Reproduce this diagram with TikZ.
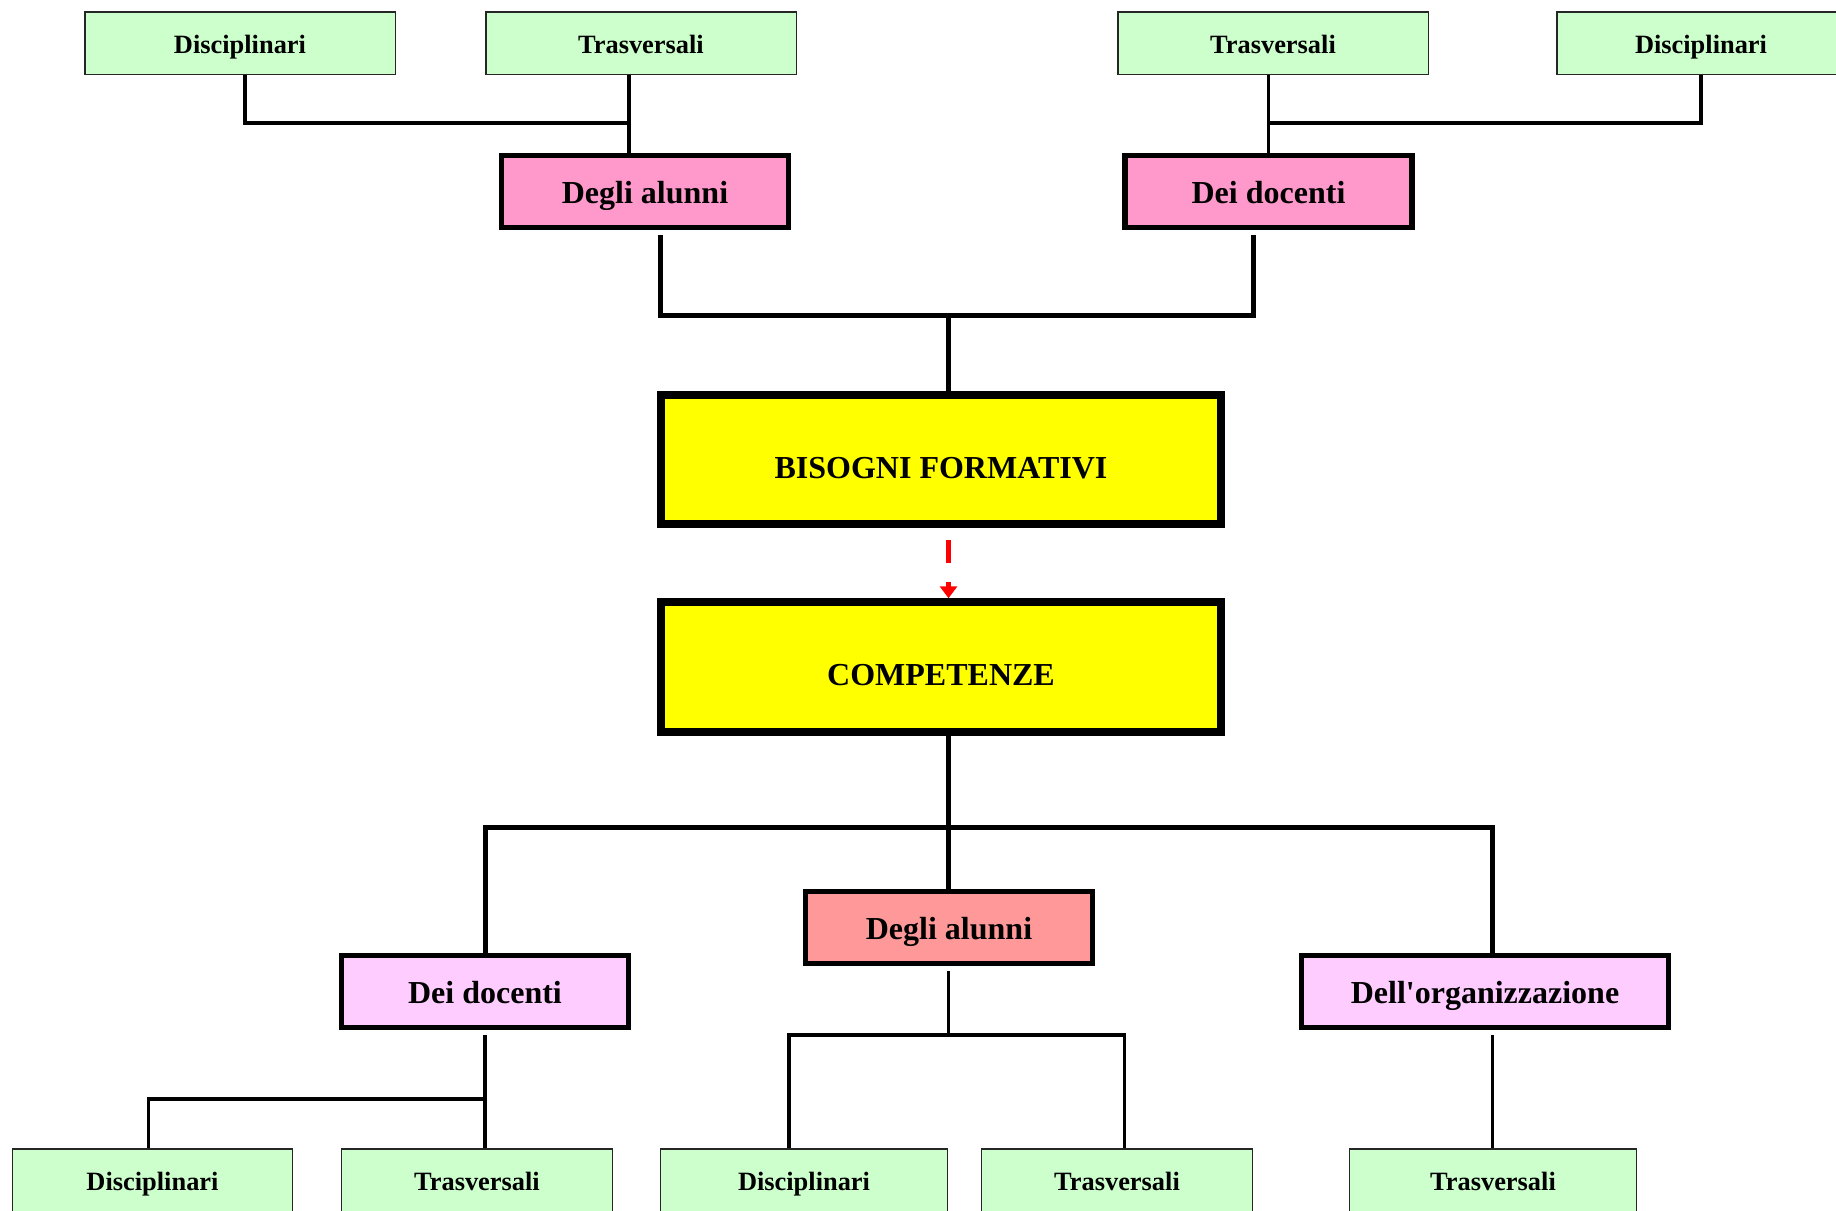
\documentclass[tikz,border=0pt]{standalone}
\usepackage{fontspec}
\setmainfont{Liberation Serif}
\usetikzlibrary{arrows.meta}

\definecolor{verde}{HTML}{CCFFCC}
\definecolor{rosa}{HTML}{FF99CC}
\definecolor{giallo}{HTML}{FFFF00}
\definecolor{salmone}{HTML}{FF9999}
\definecolor{lilla}{HTML}{FFCCFF}

\begin{document}
\begin{tikzpicture}[x=0.5pt,y=-0.5pt,
  leafbox/.style={draw=black!85,line width=0.75pt,fill=verde,minimum width=155.25pt,minimum height=31.25pt,inner sep=0pt,text height=10.3pt,text depth=0pt,font=\fontsize{13.2}{15}\selectfont\bfseries},
  midbox/.style={draw=black,line width=2.75pt,minimum width=143.5pt,minimum height=36pt,inner sep=0pt,text height=11.8pt,text depth=0pt,font=\fontsize{16}{19}\selectfont\bfseries},
  mainbox/.style={draw=black,line width=4pt,fill=giallo,minimum width=280pt,minimum height=64.75pt,inner sep=0pt,text height=18.8pt,text depth=0pt,font=\fontsize{16}{19}\selectfont\bfseries},
  thinlink/.style={line width=1.75pt},
  thicklink/.style={line width=2.5pt},
  dashlink/.style={red,line width=2.5pt,dash pattern=on 11.35pt off 9.5pt,-{Triangle[length=6pt,width=8.5pt]}}]
\useasboundingbox (0,0) rectangle (1836,1210);
\clip (0,0) rectangle (1836,1210);

\node [leafbox] (d1) at (240,43) {Disciplinari};
\node [leafbox] (t1) at (641,43) {Trasversali};
\node [leafbox] (t2) at (1273,43) {Trasversali};
\node [leafbox,minimum width=144pt] (d2) at (1701,43) {Disciplinari};
\node [midbox,fill=rosa] (a1) at (645,191.5) {Degli alunni};
\node [midbox,fill=rosa] (b1) at (1268.5,191.5) {Dei docenti};
\node [mainbox] (bis) at (941,459.5) {BISOGNI FORMATIVI};
\node [mainbox] (comp) at (941,667) {COMPETENZE};
\node [midbox,fill=salmone] (a2) at (949,927.5) {Degli alunni};
\node [midbox,fill=lilla] (b2) at (485,991.5) {Dei docenti};
\node [midbox,fill=lilla,minimum width=183.5pt] (c2) at (1485,991.5) {Dell\textquotesingle organizzazione};
\node [leafbox,minimum width=140pt] (d3) at (152.5,1180) {Disciplinari};
\node [leafbox,minimum width=135.5pt] (t3) at (477,1180) {Trasversali};
\node [leafbox,minimum width=143.5pt] (d4) at (804,1180) {Disciplinari};
\node [leafbox,minimum width=135.5pt] (t4) at (1117,1180) {Trasversali};
\node [leafbox,minimum width=143.5pt] (t5) at (1493,1180) {Trasversali};

\coordinate (ja) at (629,123);
\coordinate (jb) at (1268.7,123);
\coordinate (jc) at (948.5,315);
\coordinate (la) at (660.4,0);
\coordinate (lb) at (1253,0);
\coordinate (jd) at (948.5,827);
\coordinate (lc) at (1492.5,0);
\coordinate (je) at (484.8,1099);
\coordinate (jf) at (948.5,1035);
\coordinate (lf) at (789.2,0);
\coordinate (lg) at (1124.7,0);

\draw [thinlink] ([xshift=2.5pt]d1.south) |- (ja);
\draw [thinlink] (t1.south -| ja) -- (a1.north -| ja);
\draw [thinlink] (d2.south) |- (jb);
\draw [thinlink] (t2.south -| jb) -- (b1.north -| jb);
\draw [thicklink,shorten <=2.5pt] (a1.south -| la) |- (jc);
\draw [thicklink,shorten <=2.5pt] (b1.south -| lb) |- (jc);
\draw [thicklink] (jc) -- (bis.north -| jc);
\draw [dashlink,shorten <=6pt] (bis.south -| jc) -- (comp.north -| jc);
\draw [thicklink] (comp.south -| jc) -- (a2.north -| jc);
\draw [thicklink] (b2.north) |- (lc |- jd) -- (lc |- c2.north);
\draw [thinlink,shorten <=2.5pt] (b2.south -| je) -- (t3.north -| je);
\draw [thinlink] (je) -| ([xshift=-2pt]d3.north);
\draw [thinlink,shorten <=2.5pt] (a2.south -| jf) -- (jf);
\draw [thinlink] (lf |- d4.north) |- (lg |- jf) -- (lg |- t4.north);
\draw [thinlink,shorten <=2.5pt] (c2.south -| lc) -- (t5.north -| lc);
\end{tikzpicture}
\end{document}
